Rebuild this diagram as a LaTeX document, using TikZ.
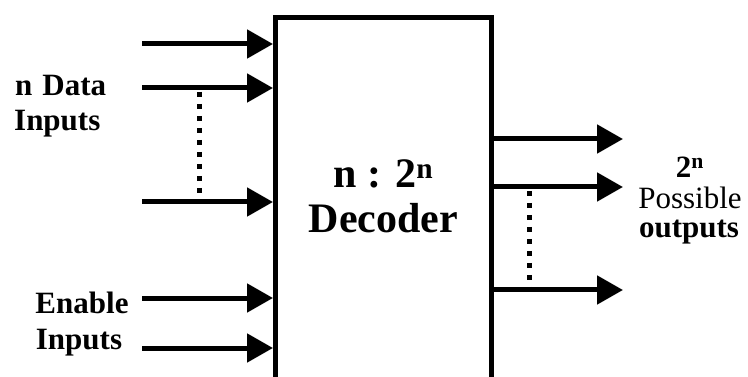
\documentclass[tikz,border=0pt]{standalone}
\usepackage{fontspec}
\setmainfont{Liberation Serif}
\usetikzlibrary{arrows.meta}
\begin{document}
\begin{tikzpicture}[x=1pt,y=-1pt,
  sig/.style={line width=5pt,-{Triangle[length=26pt,width=28pt]}},
  dots/.style={line width=5pt,dash pattern=on 5pt off 7pt},
  lbl/.style={font=\bfseries\fontsize{31}{31}\selectfont,inner sep=0pt},
  lblr/.style={font=\fontsize{31}{31}\selectfont,inner sep=0pt},
  big/.style={font=\bfseries\fontsize{42}{42}\selectfont,inner sep=0pt}]
\useasboundingbox (0,0) rectangle (748,377);
\node[draw,line width=5pt,minimum width=216pt,minimum height=368pt,inner sep=0pt] (dec) at (383.5,201.5) {};
% inputs
\coordinate (i1) at (142,44);
\coordinate (i2) at (142,88);
\coordinate (i3) at (142,202);
\coordinate (e1) at (142,298);
\coordinate (e2) at (142,348);
\foreach \c in {i1,i2,i3,e1,e2} \draw[sig] (\c) -- (\c -| dec.west);
\coordinate (da) at (199,92);
\coordinate (db) at (199,199);
\draw[dots] (da) -- (db);
% outputs
\coordinate (o1) at (623,139);
\coordinate (o2) at (623,187);
\coordinate (o3) at (623,290);
\foreach \c in {o1,o2,o3} \draw[sig] (\c -| dec.east) -- (\c);
\coordinate (dc) at (529,191);
\coordinate (dd) at (529,291);
\draw[dots] (dc) -- (dd);
% labels
\node[lbl,anchor=base west] (ndata) at (15,96) {n\hspace{10pt}Data};
\node[lbl,anchor=base west] (din) at (14,131) {Inputs};
\node[lbl,anchor=base] (en) at (82,313) {Enable};
\node[lbl,anchor=base] (ein) at (79,349) {Inputs};
\node[lbl,anchor=base] (two) at (690,178) {2\textsuperscript{n}};
\node[lblr,anchor=base] (poss) at (690,209) {Possible};
\node[lbl,anchor=base] (outs) at (689,238) {outputs};
\node[big,anchor=base] (ratio) at (383.5,188) {n : 2\textsuperscript{n}};
\node[big,anchor=base] (decl) at (383.5,233) {Decoder};
\end{tikzpicture}
\end{document}
